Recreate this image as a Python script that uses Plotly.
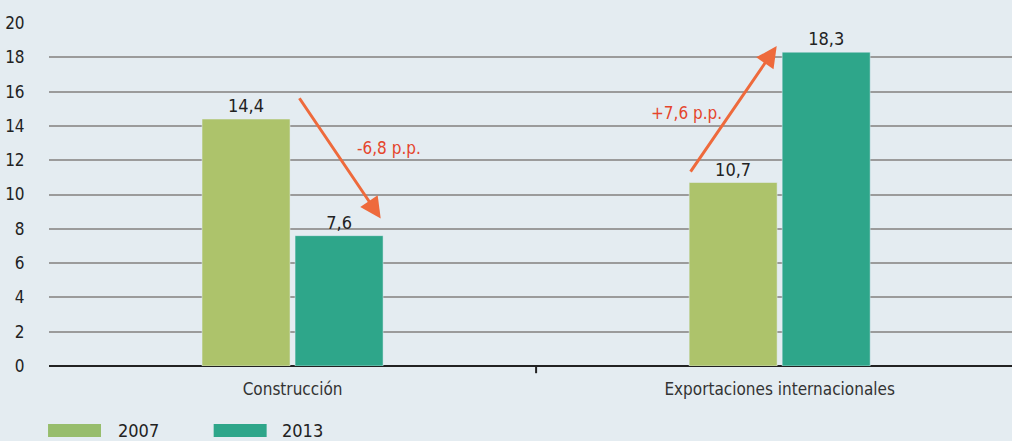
import plotly.graph_objects as go

categories = ["Construcción", "Exportaciones internacionales"]
years = ["2007", "2013"]
values_2007 = [14.4, 10.7]
values_2013 = [7.6, 18.3]
change_labels = ["-6,8 p.p.", "+7,6 p.p."]
y_ticks = list(range(0, 21, 2))

BG = "#e4ecf1"
C2007 = "#adc36b"
C2013 = "#2ea68a"
LEG2007 = "#97bd6c"
ORANGE = "#ee6a3c"
RED_TXT = "#e5452c"
FONT = "Liberation Sans Narrow, DejaVu Sans Condensed, Arial Narrow, sans-serif"

def fmt(v):
    return f"{v:.1f}".replace(".", ",")

fig = go.Figure()
fig.add_trace(go.Bar(x=[0, 1], y=values_2007, name=years[0], marker_color=C2007,
                     text=[fmt(v) for v in values_2007], textposition="outside",
                     textfont=dict(size=18, color="#222222", family=FONT),
                     cliponaxis=False, showlegend=False))
fig.add_trace(go.Bar(x=[0, 1], y=values_2013, name=years[1], marker_color=C2013,
                     text=[fmt(v) for v in values_2013], textposition="outside",
                     textfont=dict(size=18, color="#222222", family=FONT),
                     cliponaxis=False, showlegend=False))

fig.update_layout(
    width=1012, height=441,
    paper_bgcolor=BG, plot_bgcolor=BG,
    margin=dict(l=49, r=0, t=23, b=75),
    barmode="group", bargap=0.618, bargroupgap=0.054,
    font=dict(family=FONT, size=17, color="#222222"),
    showlegend=False,
    xaxis=dict(range=[-0.5, 1.477], tickvals=[0, 1], ticktext=categories,
               showgrid=False, zeroline=False, showline=False,
               ticks="outside", ticklen=8, tickcolor=BG,
               tickfont=dict(size=17, color="#333333", family=FONT)),
    yaxis=dict(range=[0, 20], tickvals=y_ticks,
               showgrid=True, gridcolor="#9b9b9b", gridwidth=1.5,
               zeroline=True, zerolinecolor="#222222", zerolinewidth=2,
               ticks="outside", ticklen=20, tickcolor=BG,
               tickfont=dict(size=17, color="#222222", family=FONT)),
)

# category separator tick
fig.add_shape(type="line", xref="x", yref="paper", x0=0.5, x1=0.5, y0=0, y1=-0.021,
              line=dict(color="#222222", width=2))

# change arrows (category index + offset)
arrows = [
    dict(x=0 + 0.181, y=values_2013[0] + 1.0, ax=0 + 0.012, ay=values_2007[0] + 1.3),
    dict(x=1 - 0.006, y=values_2013[1] + 0.36, ax=1 - 0.185, ay=values_2007[1] + 0.55),
]
for a in arrows:
    fig.add_annotation(x=a["x"], y=a["y"], ax=a["ax"], ay=a["ay"], xref="x", yref="y",
                       axref="x", ayref="y", text="", showarrow=True, arrowhead=2,
                       arrowsize=1.4, arrowwidth=3, arrowcolor=ORANGE)
fig.add_annotation(x=0 + 0.199, y=12.7, xref="x", yref="y", text=change_labels[0],
                   showarrow=False, font=dict(size=17, color=RED_TXT, family=FONT))
fig.add_annotation(x=1 - 0.191, y=14.75, xref="x", yref="y", text=change_labels[1],
                   showarrow=False, font=dict(size=17, color=RED_TXT, family=FONT))

# legend
leg = [(years[0], LEG2007, -0.001, 0.054, 0.0696), (years[1], C2013, 0.171, 0.226, 0.240)]
for name, col, x0, x1, xt in leg:
    fig.add_shape(type="rect", xref="paper", yref="paper", x0=x0, x1=x1,
                  y0=-0.207, y1=-0.169, fillcolor=col, line=dict(width=0))
    fig.add_annotation(xref="paper", yref="paper", x=xt, y=-0.1895, text=name,
                       showarrow=False, xanchor="left", yanchor="middle",
                       font=dict(size=18, color="#222222", family=FONT))

fig.write_html("out.html", config={"displayModeBar": False},
               post_script="document.body.style.margin='0';document.body.style.overflow='hidden';")
